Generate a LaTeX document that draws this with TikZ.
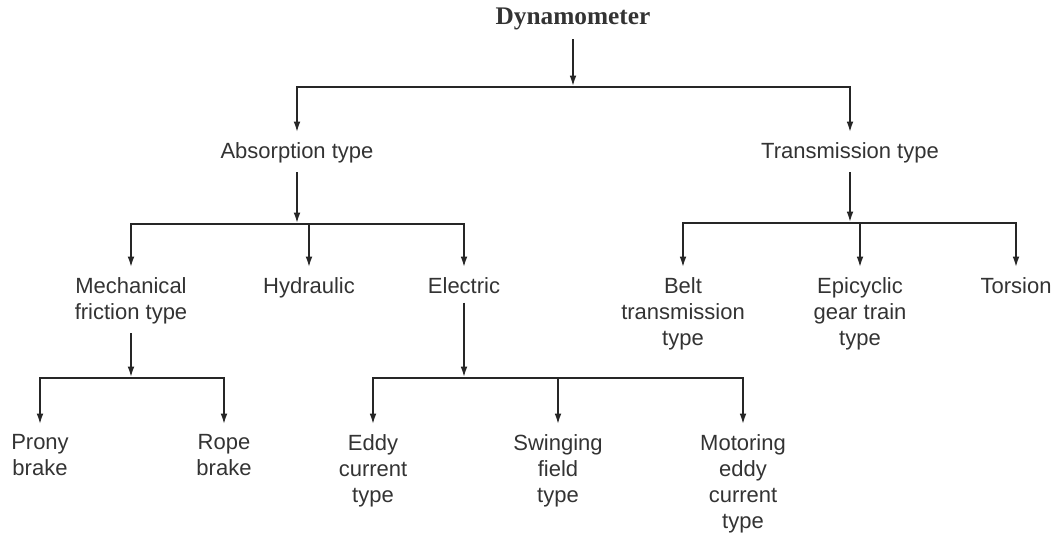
\documentclass[tikz,border=0pt]{standalone}
\usepackage{fontspec}
\setmainfont{Liberation Sans}
\newfontfamily\titlefont{Liberation Serif}
\usetikzlibrary{arrows.meta}

\begin{document}
\begin{tikzpicture}[x=0.75pt,y=-0.75pt,
		every node/.style={font=\fontsize{16.5}{19.5}\selectfont, text=black!80, align=center, inner xsep=0pt, inner ysep=6.75pt},
		lnk/.style={line width=2pt, draw=black!85},
		arr/.style={lnk, -{Latex[length=8.5pt,width=5pt]}}]
				\useasboundingbox (0,0) rectangle (1056,534);
				% top
				\node (dyn) at (573,19) {\titlefont\bfseries\fontsize{19}{23}\selectfont Dynamometer};
				\coordinate (b0) at (573,87);
				\node[anchor = north] (abs) at (297,133) {Absorption type};
				\node[anchor = north] (trans) at (850,133) {Transmission type};
				% absorption branch
				\coordinate (b1) at (297,224);
				\node[anchor = north] (mech) at (131,268) {Mechanical\\friction type};
				\node[anchor = north] (hyd) at (309,268) {Hydraulic};
				\node[anchor = north] (elec) at (464,268) {Electric};
				\coordinate (b3) at (131,378);
				\node[anchor = north] (prony) at (40,425) {Prony\\brake};
				\node[anchor = north] (rope) at (224,425) {Rope\\brake};
				\coordinate (b4) at (464,378);
				\node[anchor = north] (eddy) at (373,425) {Eddy\\current\\type};
				\node[anchor = north] (swing) at (558,425) {Swinging\\field\\type};
				\node[anchor = north] (motor) at (743,425) {Motoring\\eddy\\current\\type};
				% transmission branch
				\coordinate (b2) at (850,223);
				\node[anchor = north] (belt) at (683,268) {Belt\\transmission\\type};
				\node[anchor = north] (epi) at (860,268) {Epicyclic\\gear train\\type};
				\node[anchor = north] (tors) at (1016,268) {Torsion};
				% connectors
				\draw[arr] (dyn) -- (b0);
				\draw[arr] (b0) -| (abs);
				\draw[arr] (b0) -| (trans);
				\draw[arr] (abs) -- (b1);
				\draw[arr] (b1) -| (mech);
				\draw[arr] (b1) -| (hyd);
				\draw[arr] (b1) -| (elec);
				\draw[arr] (mech) -- (b3);
				\draw[arr] (b3) -| (prony);
				\draw[arr] (b3) -| (rope);
				\draw[arr] (elec) -- (b4);
				\draw[arr] (b4) -| (eddy);
				\draw[arr] (b4) -| (swing);
				\draw[arr] (b4) -| (motor);
				\draw[arr] (trans) -- (b2);
				\draw[arr] (b2) -| (belt);
				\draw[arr] (b2) -| (epi);
				\draw[arr] (b2) -| (tors);
			\end{tikzpicture}
\end{document}
